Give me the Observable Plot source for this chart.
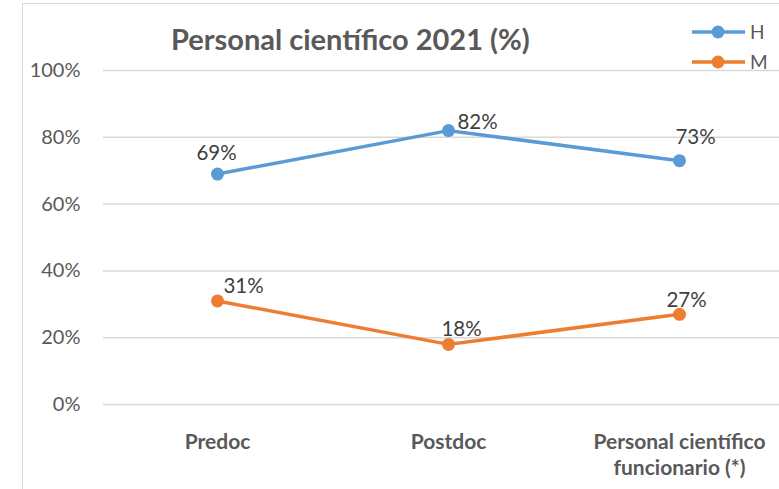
<!DOCTYPE html>
<html>
<head>
<meta charset="utf-8">
<script src="https://cdn.jsdelivr.net/npm/d3@7"></script>
<script src="https://cdn.jsdelivr.net/npm/@observablehq/plot@0.6"></script>
<style>
  html, body { margin: 0; padding: 0; background: #fff; overflow: hidden; }
  #wrap { position: relative; width: 779px; height: 489px; overflow: hidden; font-family: Lato, sans-serif; }
  #border { position: absolute; left: 22px; top: 3px; width: 800px; height: 520px;
            border-left: 1.5px solid #d9d9d9; border-top: 1.5px solid #d9d9d9; }
  #chart, #overlay { position: absolute; left: 0; top: 0; }
  #overlay { pointer-events: none; }
</style>
</head>
<body>
<div id="wrap"><div id="border"></div><div id="chart"></div></div>
<script>
// ---- data ----
const titleText = "Personal científico 2021 (%)";
const categories = ["Predoc", "Postdoc", "Personal científico funcionario (*)"];
const xTickLabels = ["Predoc", "Postdoc", "Personal científico\nfuncionario (*)"];
const seriesNames = ["H", "M"];
const seriesColors = ["#5b9bd5", "#ed7d31"];
const valuesH = [0.69, 0.82, 0.73];
const valuesM = [0.31, 0.18, 0.27];
const yTicks = [0, 0.2, 0.4, 0.6, 0.8, 1.0];

// label nudges (layout only), in pixel offsets per series/category
const labelNudgeH = [[-1, -21], [29, -8], [16, -23]];
const labelNudgeM = [[26, -15], [13, -15], [7, -14]];

const rows = [];
categories.forEach((c, i) => rows.push({series: "H", cat: c, value: valuesH[i], nudge: labelNudgeH[i]}));
categories.forEach((c, i) => rows.push({series: "M", cat: c, value: valuesM[i], nudge: labelNudgeM[i]}));

const pct = d3.format(".0%");
const textColor = "#595959";
const labelColor = "#404040";

const labelMarks = rows.map(r => Plot.text([r], {
  x: "cat", y: "value", text: d => pct(d.value),
  dx: r.nudge[0], dy: r.nudge[1],
  fill: labelColor, fontSize: 20.5, fontFamily: "Lato"
}));

const chart = Plot.plot({
  width: 779, height: 489,
  marginLeft: 103, marginRight: 0, marginTop: 70, marginBottom: 85,
  style: {fontFamily: "Lato, sans-serif", background: "transparent", overflow: "visible"},
  x: {type: "point", domain: categories, padding: 0.46, align: 0.535},
  y: {domain: [0, 1]},
  color: {domain: seriesNames, range: seriesColors},
  marks: [
    Plot.gridY(yTicks, {stroke: "#d9d9d9", strokeOpacity: 1, strokeWidth: 1.5}),
    Plot.axisY(yTicks, {tickSize: 0, tickPadding: 23, tickFormat: pct, fontSize: 20,
      fill: textColor, label: null}),
    Plot.axisX({tickSize: 0, tickPadding: 26, fontSize: 21, fontWeight: "bold", fill: textColor,
      label: null, lineHeight: 1.25,
      tickFormat: d => xTickLabels[categories.indexOf(d)]}),
    Plot.line(rows, {x: "cat", y: "value", z: "series", stroke: "series", strokeWidth: 3.5}),
    Plot.dot(rows, {x: "cat", y: "value", fill: "series", r: 6.5}),
    ...labelMarks
  ]
});
document.getElementById("chart").appendChild(chart);

// ---- title + legend overlay ----
const ov = d3.select("#wrap").append("svg").attr("id", "overlay")
  .attr("width", 779).attr("height", 489);
ov.append("text").attr("x", 171).attr("y", 50)
  .attr("font-family", "Lato").attr("font-weight", "bold").attr("font-size", 29)
  .attr("fill", textColor).text(titleText);
const legendRows = [32, 62];
seriesNames.forEach((s, i) => {
  const g = ov.append("g").attr("transform", `translate(692,${legendRows[i]})`);
  g.append("line").attr("x1", 0).attr("x2", 53).attr("y1", 0).attr("y2", 0)
    .attr("stroke", seriesColors[i]).attr("stroke-width", 3.5);
  g.append("circle").attr("cx", 26).attr("cy", 0).attr("r", 6.5).attr("fill", seriesColors[i]);
  g.append("text").attr("x", 58).attr("y", 7).attr("font-family", "Lato").attr("font-size", 19)
    .attr("fill", textColor).text(s);
});
</script>
</body>
</html>
